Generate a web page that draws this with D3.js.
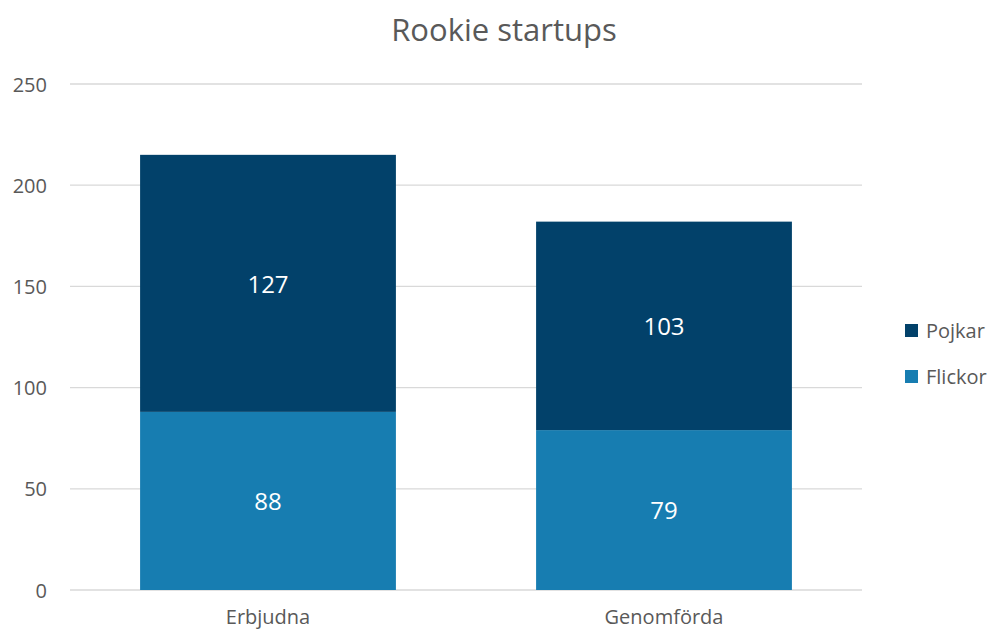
<!DOCTYPE html>
<html>
<head>
<meta charset="utf-8">
<script src="https://cdn.jsdelivr.net/npm/d3@7"></script>
<style>
  body { margin: 0; background: #fff; }
  svg text { font-family: "Open Sans", sans-serif; fill: #595959; }
</style>
</head>
<body>
<div class="canvas"></div>
<script>
const categories = ["Erbjudna", "Genomförda"];
const flickor = [88, 79];
const pojkar = [127, 103];
const seriesNames = ["Flickor", "Pojkar"];
const yTicks = [0, 50, 100, 150, 200, 250];

let dims = { width: 987, height: 630 };
let plot = { left: 70, right: 862, top: 84, bottom: 590 };

const color = d3.scaleOrdinal().domain(seriesNames).range(["#177db1", "#02416a"]);

const svg = d3
    .select(".canvas")
    .append("svg")
    .attr("width", dims.width)
    .attr("height", dims.height);

const data = categories.map((c, i) => ({ cat: c, Flickor: flickor[i], Pojkar: pojkar[i] }));
const stacked = d3.stack().keys(seriesNames)(data);

const x = d3.scaleBand().domain(categories).range([plot.left, plot.right]).paddingInner(0.354).paddingOuter(0.177);
const y = d3.scaleLinear().domain([0, 250]).range([plot.bottom, plot.top]);

// gridlines
svg.append("g")
    .selectAll("line")
    .data(yTicks)
    .enter()
    .append("line")
    .attr("x1", plot.left)
    .attr("x2", plot.right)
    .attr("y1", (d) => y(d))
    .attr("y2", (d) => y(d))
    .attr("stroke", "#d9d9d9")
    .attr("stroke-width", 1.3);

// y axis labels
const yAxis = svg.append("g")
    .attr("transform", `translate(${plot.left - 23},0)`)
    .call(d3.axisLeft(y).tickValues(yTicks).tickSize(0).tickPadding(0));
yAxis.select(".domain").remove();
yAxis.selectAll("text").style("font-size", "20px").attr("fill", "#595959").attr("dy", "0.35em");

// bars
const groups = svg.append("g")
    .selectAll("g")
    .data(stacked)
    .enter()
    .append("g")
    .attr("fill", (d) => color(d.key));

groups.selectAll("rect")
    .data((d) => d)
    .enter()
    .append("rect")
    .attr("x", (d) => x(d.data.cat))
    .attr("width", x.bandwidth())
    .attr("y", (d) => y(d[1]))
    .attr("height", (d) => y(d[0]) - y(d[1]));

groups.selectAll("text")
    .data((d) => d)
    .enter()
    .append("text")
    .attr("x", (d) => x(d.data.cat) + x.bandwidth() / 2)
    .attr("y", (d) => (y(d[0]) + y(d[1])) / 2 + 1)
    .attr("dy", "0.35em")
    .attr("text-anchor", "middle")
    .style("font-size", "24px")
    .style("fill", "#fff")
    .text((d) => d[1] - d[0]);

// x axis labels
const xAxis = svg.append("g")
    .attr("transform", `translate(0,${plot.bottom})`)
    .call(d3.axisBottom(x).tickSize(0).tickPadding(0));
xAxis.select(".domain").remove();
xAxis.selectAll("text").style("font-size", "20px").attr("fill", "#595959").attr("dy", "0").attr("y", 34);

// title
svg.append("text")
    .attr("x", (plot.left + plot.right) / 2 + 38)
    .attr("y", 41)
    .attr("text-anchor", "middle")
    .style("font-size", "31px")
    .text("Rookie startups");

// legend
const legendGroup = svg.append("g").attr("transform", "translate(905,321)");
const legendItems = legendGroup.selectAll("g")
    .data(["Pojkar", "Flickor"])
    .enter()
    .append("g")
    .attr("transform", (d, i) => `translate(0,${i * 46})`);
legendItems.append("rect")
    .attr("width", 13)
    .attr("height", 13)
    .attr("y", 3)
    .attr("fill", (d) => color(d));
legendItems.append("text")
    .attr("x", 21)
    .attr("y", 10)
    .attr("dy", "0.35em")
    .style("font-size", "20px")
    .text((d) => d);
</script>
</body>
</html>
